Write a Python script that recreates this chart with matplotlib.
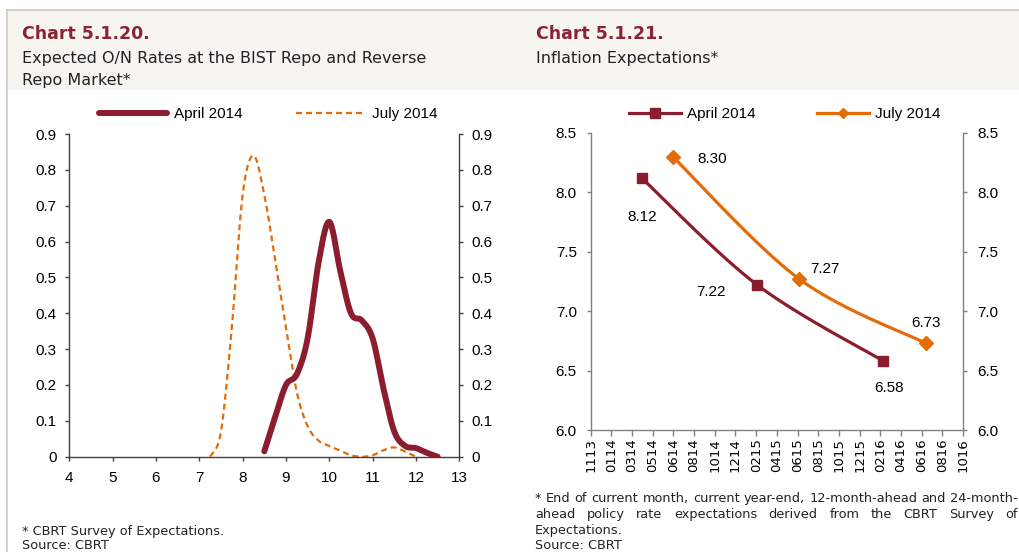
import numpy as np
import matplotlib
matplotlib.use("Agg")
import matplotlib.pyplot as plt
from matplotlib.patches import Rectangle
from matplotlib.lines import Line2D

# ---- data: Chart 5.1.20 (distribution of expected O/N rates)
april_rate = [8.5, 8.75, 9.0, 9.25, 9.5, 9.75, 10.0, 10.25, 10.5, 10.75,
              11.0, 11.25, 11.5, 11.75, 12.0, 12.25, 12.5]
april_share = [0.015, 0.11, 0.20, 0.23, 0.33, 0.54, 0.655, 0.52, 0.40, 0.38,
               0.33, 0.19, 0.07, 0.03, 0.024, 0.011, 0.0]
july_rate = [7.25, 7.5, 7.75, 8.0, 8.25, 8.5, 8.75, 9.0, 9.25, 9.5, 9.75,
             10.0, 10.25, 10.5, 10.75, 11.0, 11.25, 11.5, 11.75, 12.0]
july_share = [0.0, 0.07, 0.36, 0.73, 0.84, 0.73, 0.55, 0.36, 0.18, 0.085, 0.045,
              0.03, 0.017, 0.004, 0.0, 0.004, 0.018, 0.026, 0.014, 0.0]

# ---- data: Chart 5.1.21 (inflation expectations)
date_labels = ["1113", "0114", "0314", "0514", "0614", "0814", "1014", "1214",
               "0215", "0415", "0615", "0815", "1015", "1215", "0216", "0416",
               "0616", "0816", "1016"]
april_pos = [2.47, 8.06, 14.15]   # position on the date axis (tick units)
april_exp = [8.12, 7.22, 6.58]
july_pos = [3.97, 10.09, 16.2]
july_exp = [8.30, 7.27, 6.73]

RED = "#8C1D2F"
ORANGE = "#E36C09"
TITLE_RED = "#8B2332"
W, H = 1020, 552


def smooth(x, y, n=24):
    # Excel style smoothed line (Catmull-Rom bezier)
    x = np.asarray(x, float)
    y = np.asarray(y, float)
    px = np.concatenate([[x[0]], x, [x[-1]]])
    py = np.concatenate([[y[0]], y, [y[-1]]])
    xs, ys = [x[0]], [y[0]]
    t = np.linspace(0, 1, n)[1:]
    for i in range(1, len(px) - 2):
        p0 = np.array([px[i], py[i]])
        p3 = np.array([px[i + 1], py[i + 1]])
        p1 = p0 + (p3 - np.array([px[i - 1], py[i - 1]])) / 6
        p2 = p3 - (np.array([px[i + 2], py[i + 2]]) - p0) / 6
        b = (((1 - t) ** 3)[:, None] * p0 + (3 * (1 - t) ** 2 * t)[:, None] * p1
             + (3 * (1 - t) * t ** 2)[:, None] * p2 + (t ** 3)[:, None] * p3)
        xs.extend(b[:, 0])
        ys.extend(b[:, 1])
    return np.array(xs), np.array(ys)


def fx(px):
    return px / W


def fy(py):
    return 1 - py / H


fig = plt.figure(figsize=(W / 100, H / 100), dpi=100)

# header band and frame lines
fig.add_artist(Rectangle((fx(8), fy(90)), fx(1020) - fx(8), fy(10) - fy(90),
                         transform=fig.transFigure, facecolor="#F7F5F0",
                         edgecolor="none", zorder=0))
fig.add_artist(Line2D([fx(7), 1], [fy(9.5), fy(9.5)], transform=fig.transFigure,
                      color="#D0C9BC", lw=1.2))
fig.add_artist(Line2D([fx(7.5), fx(7.5)], [0, fy(9.5)], transform=fig.transFigure,
                      color="#D0C9BC", lw=1.2))

TFONT = "DejaVu Sans"
fig.text(fx(22), fy(39), "Chart 5.1.20.", family=TFONT, weight="bold",
         fontsize=12.5, color=TITLE_RED, va="baseline")
fig.text(fx(22), fy(63), "Expected O/N Rates at the BIST Repo and Reverse",
         family=TFONT, fontsize=11.5, color="#222222", va="baseline")
fig.text(fx(22), fy(85.5), "Repo Market*", family=TFONT, fontsize=11.5,
         color="#222222", va="baseline")
fig.text(fx(536), fy(39), "Chart 5.1.21.", family=TFONT, weight="bold",
         fontsize=12.5, color=TITLE_RED, va="baseline")
fig.text(fx(536), fy(63), "Inflation Expectations*", family=TFONT,
         fontsize=11.5, color="#222222", va="baseline")

AFONT = "Liberation Sans"

# ---------------- left chart
ax1 = fig.add_axes([fx(69.3), fy(456.7), fx(459.3) - fx(69.3), fy(134) - fy(456.7)])
xa, ya = smooth(april_rate, april_share)
xj, yj = smooth(july_rate, july_share)
l_apr, = ax1.plot(xa, ya, color=RED, lw=4.3, solid_capstyle="round",
                  label="April 2014", zorder=3)
l_jul, = ax1.plot(xj, yj, color=ORANGE, lw=1.6, dashes=(2.7, 1.8),
                  label="July 2014", zorder=2)
ax1.set_xlim(4, 13)
ax1.set_ylim(0, 0.9)
ax1.set_xticks(range(4, 14))
ax1.set_yticks(np.arange(0, 0.91, 0.1))
ax1.set_yticklabels(["0"] + ["%.1f" % v for v in np.arange(0.1, 0.91, 0.1)])
ax1.spines["top"].set_visible(False)
for s in ("left", "right", "bottom"):
    ax1.spines[s].set_color("#404040")
    ax1.spines[s].set_linewidth(1.0)
ax1.tick_params(axis="y", which="both", direction="out", length=3, width=1,
                colors="#404040", labelcolor="black", right=True,
                labelright=True, pad=6, labelsize=11)
ax1.tick_params(axis="x", direction="out", length=3, width=1, colors="#404040",
                labelcolor="black", pad=7, labelsize=11)
for lab in ax1.get_xticklabels() + ax1.get_yticklabels():
    lab.set_family(AFONT)

fig.legend(handles=[l_apr, l_jul], loc="center", bbox_to_anchor=(fx(268), fy(114)),
           ncol=2, frameon=False, prop={"family": AFONT, "size": 11},
           handlelength=4.5, handletextpad=0.45, columnspacing=3.5,
           borderpad=0, borderaxespad=0)

# ---------------- right chart
ax2 = fig.add_axes([fx(590.7), fy(430), fx(963) - fx(590.7), fy(133) - fy(430)])
xs, ys = smooth(april_pos, april_exp)
ax2.plot(xs, ys, color=RED, lw=2.3, zorder=2)
ax2.plot(april_pos, april_exp, ls="none", marker="s", ms=6.5, color=RED, zorder=3)
xs, ys = smooth(july_pos, july_exp)
ax2.plot(xs, ys, color=ORANGE, lw=2.3, zorder=2)
ax2.plot(july_pos, july_exp, ls="none", marker="D", ms=7, color=ORANGE, zorder=3)
ax2.set_xlim(0, len(date_labels) - 1)
ax2.set_ylim(6.0, 8.5)
ax2.set_xticks(range(len(date_labels)))
ax2.set_xticklabels(date_labels, rotation=90, family=TFONT, fontsize=9.5)
ax2.set_yticks(np.arange(6.0, 8.51, 0.5))
ax2.set_yticklabels(["%.1f" % v for v in np.arange(6.0, 8.51, 0.5)])
ax2.spines["top"].set_visible(False)
for s in ("left", "right", "bottom"):
    ax2.spines[s].set_color("#808080")
    ax2.spines[s].set_linewidth(1.0)
ax2.tick_params(axis="y", direction="out", length=3, width=1, colors="#808080",
                labelcolor="black", right=True, labelright=True, pad=7,
                labelsize=11)
ax2.tick_params(axis="x", direction="out", length=4, width=1, colors="#808080",
                labelcolor="black", pad=2)
for lab in ax2.get_yticklabels():
    lab.set_family(AFONT)

# data labels (offsets in pixels)
apr_off = [(0, -39), (-46, -7), (6, -27)]
jul_off = [(39, -2), (26, 10), (0, 20)]
for xv, yv, off in zip(april_pos, april_exp, apr_off):
    ax2.annotate("%.2f" % yv, (xv, yv), xytext=off, textcoords="offset pixels",
                 ha="center", va="center", family=AFONT, fontsize=11)
for xv, yv, off in zip(july_pos, july_exp, jul_off):
    ax2.annotate("%.2f" % yv, (xv, yv), xytext=off, textcoords="offset pixels",
                 ha="center", va="center", family=AFONT, fontsize=11)

h_apr = Line2D([], [], color=RED, lw=2.3, marker="s", ms=6.5)
h_jul = Line2D([], [], color=ORANGE, lw=2.3, marker="D", ms=5)
fig.legend(handles=[h_apr, h_jul], labels=["April 2014", "July 2014"], loc="center",
           bbox_to_anchor=(fx(785), fy(114)), ncol=2, frameon=False,
           prop={"family": AFONT, "size": 11}, handlelength=3.4,
           handletextpad=0.4, columnspacing=4.0, borderpad=0, borderaxespad=0,
           numpoints=1)

# ---------------- footnotes
NFONT = dict(family=TFONT, fontsize=9.3, color="#222222", va="baseline")
fig.text(fx(22), fy(535), "* CBRT Survey of Expectations.", **NFONT)
fig.text(fx(22), fy(549), "Source: CBRT", **NFONT)

renderer = fig.canvas.get_renderer()


def justified(line, x0, x1, ybase):
    words = line.split(" ")
    texts = [fig.text(0, fy(ybase), w, **NFONT) for w in words]
    widths = [t.get_window_extent(renderer).width for t in texts]
    gap = (x1 - x0 - sum(widths)) / (len(words) - 1)
    x = x0
    for t, w in zip(texts, widths):
        t.set_x(fx(x))
        x += w + gap


justified("* End of current month, current year-end, 12-month-ahead and 24-month-",
          535, 1018, 502)
justified("ahead policy rate expectations derived from the CBRT Survey of",
          535, 1018, 518)
fig.text(fx(535), fy(534), "Expectations.", **NFONT)
fig.text(fx(535), fy(549), "Source: CBRT", **NFONT)

fig.savefig("out.png", dpi=100)
